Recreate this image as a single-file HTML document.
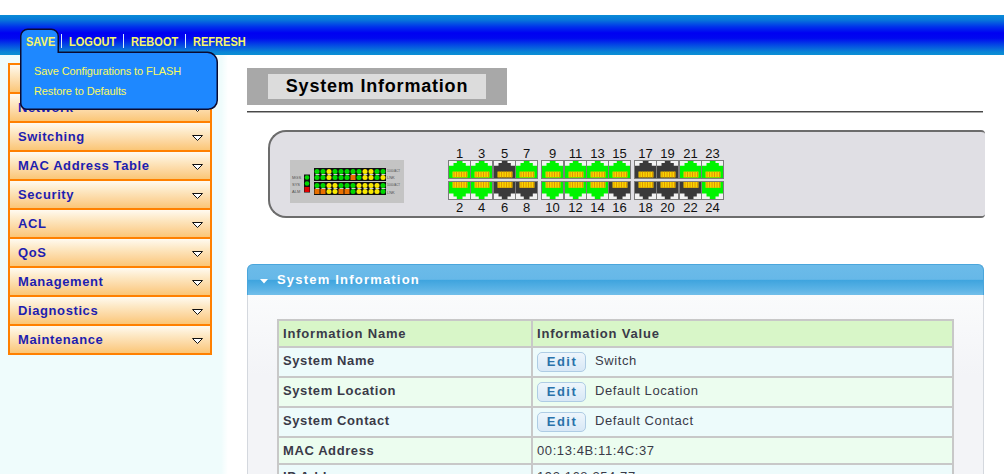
<!DOCTYPE html>
<html><head><meta charset="utf-8"><style>
*{box-sizing:border-box}
html,body{margin:0;padding:0}
body{width:1004px;height:474px;overflow:hidden;position:relative;background:#effcfc;font-family:"Liberation Sans", sans-serif}
#topw{position:absolute;left:0;top:0;width:1004px;height:15px;background:#fff}
#bar{position:absolute;left:0;top:15px;width:1004px;height:40px;background:linear-gradient(#0a8cd6 0%,#0878da 12%,#0030ec 30%,#0000f2 45%,#0008f0 58%,#0448e4 75%,#0a84d6 92%,#0c90d4 100%)}
.mi{position:absolute;top:34.5px;font-size:12px;font-weight:bold;color:#f6f66a;line-height:14px;white-space:nowrap;transform:scaleX(0.92);transform-origin:0 0}
.sep{position:absolute;top:34px;width:1px;height:14px;background:#d8ecff}
#tab{position:absolute;left:20px;top:28.5px;width:39px;height:30px;background:#1e88ff;border:1.5px solid #0a0a30;border-bottom:none;border-radius:7px 7px 0 0}
#dd{position:absolute;left:20px;top:52px;width:198px;height:58px;background:#1e88ff;border:1.5px solid #0a0a30;border-radius:0 10px 9px 6px}
#tabfill{position:absolute;left:21.5px;top:50px;width:36px;height:6px;background:#1e88ff;box-shadow:-0.5px 0 0 #0a0a30}
.ddi{position:absolute;left:34px;font-size:11px;letter-spacing:-0.1px;color:#fafa62;white-space:nowrap;line-height:13px}
#content{position:absolute;left:221px;top:55px;width:783px;height:419px;background:linear-gradient(90deg,rgba(255,255,255,0) 0px,#fff 7px)}
.si{position:absolute;left:8px;width:204px;height:31px;border:2px solid #ff8000;background:linear-gradient(#fffaf0 0%,#fde8c4 35%,#fcd59c 70%,#fbc676 100%)}
.si span{position:absolute;left:8px;top:6px;font-size:13px;font-weight:bold;color:#1e1eb0;letter-spacing:0.6px;white-space:nowrap;line-height:15px}
.si .tri{position:absolute;left:182px;top:12px}
#tbox{position:absolute;left:247px;top:68px;width:260px;height:37px;background:#a8a8a8}
#tinner{position:absolute;left:268px;top:74px;width:218px;height:25px;background:#dcdcdc;font-size:18px;font-weight:bold;letter-spacing:0.8px;color:#000;text-align:center;line-height:25px}
#tline{position:absolute;left:247px;top:111px;width:736px;height:2px;background:linear-gradient(#484848 50%,#a8a8a8 50%)}
#panel{position:absolute;left:268px;top:130px;width:717px;height:88px;background:#e0dfe4;border:2px solid #6c6c6c;border-right:none;border-radius:18px 4px 4px 18px}
.pn{position:absolute;width:30px;text-align:center;font-size:13px;color:#111;line-height:13px}
#sip{position:absolute;left:247px;top:264px;width:737px;height:220px;background:linear-gradient(#fafbfc 30px,#f3f4f7 110px);border:1px solid #d4d8de;border-radius:6px 6px 0 0}
#siph{position:absolute;left:247px;top:264px;width:737px;height:31px;border-radius:6px 6px 0 0;background:linear-gradient(#6cbbe9 0%,#66b8e8 48%,#3ea4de 50%,#5ab2e5 80%,#72bfea 100%);border:1px solid #4aa6dc;border-bottom:none}
#siph .t{position:absolute;left:29px;top:7px;font-size:13px;font-weight:bold;color:#fff;letter-spacing:1.2px;line-height:15px}
#siph svg{position:absolute;left:12px;top:13.5px}
table{position:absolute;left:277px;top:319px;width:677px;border-collapse:collapse;font-size:13px;letter-spacing:0.6px;color:#3a3a48}
td{border:2px solid #c8c8c8;padding:0 0 0 5px;vertical-align:middle;white-space:nowrap}
th{border:2px solid #c8c8c8;background:#d8f6c8;text-align:left;font-weight:bold;padding:0 0 0 4px;height:27px;color:#3a3a48;letter-spacing:0.8px}
.c1{width:254px;font-weight:bold;padding-left:4px}
.c2{padding-left:4px}
.edit{display:inline-block;width:49px;height:20px;margin-right:9px;border:1px solid #aecce4;border-radius:5px;background:linear-gradient(#eef6fc,#d8e8f6);color:#2a72aa;font-weight:bold;text-align:center;line-height:18px;vertical-align:middle;letter-spacing:1.5px;text-indent:1px}
</style></head><body>
<div id="topw"></div>
<div id="bar"></div>
<div id="content"></div>
<div class="si" style="top:63px"><span></span><svg class="tri" width="12" height="8" viewBox="0 0 12 8"><polygon points="0.5,0.5 10.5,0.5 5.5,5.5" fill="#fff" stroke="#111" stroke-width="1"/></svg></div><div class="si" style="top:92px"><span>Network</span><svg class="tri" width="12" height="8" viewBox="0 0 12 8"><polygon points="0.5,0.5 10.5,0.5 5.5,5.5" fill="#fff" stroke="#111" stroke-width="1"/></svg></div><div class="si" style="top:121px"><span>Switching</span><svg class="tri" width="12" height="8" viewBox="0 0 12 8"><polygon points="0.5,0.5 10.5,0.5 5.5,5.5" fill="#fff" stroke="#111" stroke-width="1"/></svg></div><div class="si" style="top:150px"><span>MAC Address Table</span><svg class="tri" width="12" height="8" viewBox="0 0 12 8"><polygon points="0.5,0.5 10.5,0.5 5.5,5.5" fill="#fff" stroke="#111" stroke-width="1"/></svg></div><div class="si" style="top:179px"><span>Security</span><svg class="tri" width="12" height="8" viewBox="0 0 12 8"><polygon points="0.5,0.5 10.5,0.5 5.5,5.5" fill="#fff" stroke="#111" stroke-width="1"/></svg></div><div class="si" style="top:208px"><span>ACL</span><svg class="tri" width="12" height="8" viewBox="0 0 12 8"><polygon points="0.5,0.5 10.5,0.5 5.5,5.5" fill="#fff" stroke="#111" stroke-width="1"/></svg></div><div class="si" style="top:237px"><span>QoS</span><svg class="tri" width="12" height="8" viewBox="0 0 12 8"><polygon points="0.5,0.5 10.5,0.5 5.5,5.5" fill="#fff" stroke="#111" stroke-width="1"/></svg></div><div class="si" style="top:266px"><span>Management</span><svg class="tri" width="12" height="8" viewBox="0 0 12 8"><polygon points="0.5,0.5 10.5,0.5 5.5,5.5" fill="#fff" stroke="#111" stroke-width="1"/></svg></div><div class="si" style="top:295px"><span>Diagnostics</span><svg class="tri" width="12" height="8" viewBox="0 0 12 8"><polygon points="0.5,0.5 10.5,0.5 5.5,5.5" fill="#fff" stroke="#111" stroke-width="1"/></svg></div><div class="si" style="top:324px"><span>Maintenance</span><svg class="tri" width="12" height="8" viewBox="0 0 12 8"><polygon points="0.5,0.5 10.5,0.5 5.5,5.5" fill="#fff" stroke="#111" stroke-width="1"/></svg></div>
<svg style="position:absolute;left:0;top:0" width="230" height="120" viewBox="0 0 230 120"><path d="M20.75 36 A7 7 0 0 1 27.75 29.25 L51.25 29.25 A7 7 0 0 1 58.25 36.25 L58.25 52.25 L207.25 52.25 A10 10 0 0 1 217.25 62.25 L217.25 100.25 A9 9 0 0 1 208.25 109.25 L26.75 109.25 A6 6 0 0 1 20.75 103.25 Z" fill="#1e88ff" stroke="#0a0a30" stroke-width="1.5"/></svg>
<div class="mi" style="left:26px">SAVE</div>
<div class="sep" style="left:61px"></div>
<div class="mi" style="left:69px">LOGOUT</div>
<div class="sep" style="left:123px"></div>
<div class="mi" style="left:131px">REBOOT</div>
<div class="sep" style="left:185px"></div>
<div class="mi" style="left:193px">REFRESH</div>
<div class="ddi" style="top:65px">Save Configurations to FLASH</div>
<div class="ddi" style="top:85px">Restore to Defaults</div>
<div id="tbox"></div>
<div id="tinner">System Information</div>
<div id="tline"></div>
<div id="panel"></div>
<svg style="position:absolute;left:290px;top:160px" width="114" height="43" viewBox="0 0 114 43"><rect x="0" y="0" width="114" height="43" fill="#c4c4c4"/><rect x="24" y="8" width="72" height="13" fill="#101010"/><rect x="24" y="22" width="72" height="13" fill="#101010"/><rect x="25.5" y="14" width="4" height="1" fill="#d0d0d0"/><rect x="25.5" y="28" width="4" height="1" fill="#d0d0d0"/><rect x="31.5" y="14" width="4" height="1" fill="#d0d0d0"/><rect x="31.5" y="28" width="4" height="1" fill="#d0d0d0"/><rect x="37.5" y="14" width="4" height="1" fill="#d0d0d0"/><rect x="37.5" y="28" width="4" height="1" fill="#d0d0d0"/><rect x="43.5" y="14" width="4" height="1" fill="#d0d0d0"/><rect x="43.5" y="28" width="4" height="1" fill="#d0d0d0"/><rect x="49.5" y="14" width="4" height="1" fill="#d0d0d0"/><rect x="49.5" y="28" width="4" height="1" fill="#d0d0d0"/><rect x="55.5" y="14" width="4" height="1" fill="#d0d0d0"/><rect x="55.5" y="28" width="4" height="1" fill="#d0d0d0"/><rect x="61.5" y="14" width="4" height="1" fill="#d0d0d0"/><rect x="61.5" y="28" width="4" height="1" fill="#d0d0d0"/><rect x="67.5" y="14" width="4" height="1" fill="#d0d0d0"/><rect x="67.5" y="28" width="4" height="1" fill="#d0d0d0"/><rect x="73.5" y="14" width="4" height="1" fill="#d0d0d0"/><rect x="73.5" y="28" width="4" height="1" fill="#d0d0d0"/><rect x="79.5" y="14" width="4" height="1" fill="#d0d0d0"/><rect x="79.5" y="28" width="4" height="1" fill="#d0d0d0"/><rect x="85.5" y="14" width="4" height="1" fill="#d0d0d0"/><rect x="85.5" y="28" width="4" height="1" fill="#d0d0d0"/><rect x="91.5" y="14" width="4" height="1" fill="#d0d0d0"/><rect x="91.5" y="28" width="4" height="1" fill="#d0d0d0"/><rect x="14" y="14.5" width="6" height="18" fill="#101010"/><circle cx="17" cy="17.5" r="2.3" fill="#00d800"/><circle cx="17" cy="23.5" r="2.3" fill="#00d800"/><rect x="14.5" y="27" width="5" height="5" fill="#e00000"/><circle cx="27" cy="11.5" r="2.5" fill="#00d800"/><circle cx="33" cy="11.5" r="2.5" fill="#00d800"/><circle cx="39" cy="11.5" r="2.5" fill="#f8e800"/><circle cx="45" cy="11.5" r="2.5" fill="#00d800"/><circle cx="51" cy="11.5" r="2.5" fill="#00d800"/><circle cx="57" cy="11.5" r="2.5" fill="#00d800"/><circle cx="63" cy="11.5" r="2.5" fill="#00d800"/><circle cx="69" cy="11.5" r="2.5" fill="#00d800"/><circle cx="75" cy="11.5" r="2.5" fill="#f8e800"/><circle cx="81" cy="11.5" r="2.5" fill="#f8e800"/><circle cx="87" cy="11.5" r="2.5" fill="#00d800"/><circle cx="93" cy="11.5" r="2.5" fill="#00d800"/><circle cx="27" cy="17.5" r="2.5" fill="#00d800"/><circle cx="33" cy="17.5" r="2.5" fill="#00d800"/><circle cx="39" cy="17.5" r="2.5" fill="#f8e800"/><circle cx="45" cy="17.5" r="2.5" fill="#00d800"/><circle cx="51" cy="17.5" r="2.5" fill="#00d800"/><circle cx="57" cy="17.5" r="2.5" fill="#00d800"/><rect x="60.5" y="15.0" width="5" height="5" fill="#e87000"/><circle cx="69" cy="17.5" r="2.5" fill="#00d800"/><circle cx="75" cy="17.5" r="2.5" fill="#f8e800"/><circle cx="81" cy="17.5" r="2.5" fill="#f8e800"/><circle cx="87" cy="17.5" r="2.5" fill="#00d800"/><circle cx="93" cy="17.5" r="2.5" fill="#f8e800"/><circle cx="27" cy="25.5" r="2.5" fill="#00d800"/><circle cx="33" cy="25.5" r="2.5" fill="#00d800"/><circle cx="39" cy="25.5" r="2.5" fill="#f8e800"/><circle cx="45" cy="25.5" r="2.5" fill="#f8e800"/><circle cx="51" cy="25.5" r="2.5" fill="#00d800"/><circle cx="57" cy="25.5" r="2.5" fill="#00d800"/><circle cx="63" cy="25.5" r="2.5" fill="#00d800"/><circle cx="69" cy="25.5" r="2.5" fill="#f8e800"/><circle cx="75" cy="25.5" r="2.5" fill="#f8e800"/><circle cx="81" cy="25.5" r="2.5" fill="#f8e800"/><circle cx="87" cy="25.5" r="2.5" fill="#f8e800"/><circle cx="93" cy="25.5" r="2.5" fill="#00d800"/><rect x="24.5" y="29.0" width="5" height="5" fill="#e87000"/><rect x="30.5" y="29.0" width="5" height="5" fill="#e87000"/><circle cx="39" cy="31.5" r="2.5" fill="#f8e800"/><circle cx="45" cy="31.5" r="2.5" fill="#f8e800"/><rect x="48.5" y="29.0" width="5" height="5" fill="#e87000"/><rect x="54.5" y="29.0" width="5" height="5" fill="#e87000"/><circle cx="63" cy="31.5" r="2.5" fill="#00d800"/><circle cx="69" cy="31.5" r="2.5" fill="#f8e800"/><circle cx="75" cy="31.5" r="2.5" fill="#f8e800"/><circle cx="81" cy="31.5" r="2.5" fill="#f8e800"/><circle cx="87" cy="31.5" r="2.5" fill="#f8e800"/><circle cx="93" cy="31.5" r="2.5" fill="#00d800"/><g fill="#505050" font-family="Liberation Sans" font-size="4"><text x="2" y="19">MGS</text><text x="2" y="26">SYS</text><text x="2" y="33">ALM</text><text x="97" y="11.8" textLength="13" lengthAdjust="spacingAndGlyphs">1000/ACT</text><text x="97" y="19">LNK</text><text x="97" y="26.3" textLength="13" lengthAdjust="spacingAndGlyphs">1000/ACT</text><text x="97" y="33.5">LNK</text></g></svg>
<svg style="position:absolute;left:448px;top:160px" width="23" height="19" viewBox="0 0 23 19"><rect x="0.5" y="0.5" width="22" height="18" fill="#f2f2f2" stroke="#7c7c7c" stroke-width="1"/><polygon points="1,18 1,5.8 5.5,5.8 5.5,3 8.8,3 8.8,1 14.5,1 14.5,3 17.8,3 17.8,5.8 22,5.8 22,18" fill="#00f400"/><rect x="4.5" y="11.6" width="15" height="5.8" fill="#f8d400"/><rect x="5.6" y="11.6" width="0.9" height="5.8" fill="#dc9000"/><rect x="8.1" y="11.6" width="0.9" height="5.8" fill="#dc9000"/><rect x="10.6" y="11.6" width="0.9" height="5.8" fill="#dc9000"/><rect x="13.1" y="11.6" width="0.9" height="5.8" fill="#dc9000"/><rect x="15.6" y="11.6" width="0.9" height="5.8" fill="#dc9000"/><rect x="18.1" y="11.6" width="0.9" height="5.8" fill="#dc9000"/></svg><svg style="position:absolute;left:448px;top:181px" width="23" height="19" viewBox="0 0 23 19"><rect x="0.5" y="0.5" width="22" height="18" fill="#f2f2f2" stroke="#7c7c7c" stroke-width="1"/><polygon points="1,1 1,12.6 5.5,12.6 5.5,15.4 8.8,15.4 8.8,18 14.5,18 14.5,15.4 17.8,15.4 17.8,12.6 22,12.6 22,1" fill="#00f400"/><rect x="4.5" y="1.0" width="15" height="5.8" fill="#f8d400"/><rect x="5.6" y="1.0" width="0.9" height="5.8" fill="#dc9000"/><rect x="8.1" y="1.0" width="0.9" height="5.8" fill="#dc9000"/><rect x="10.6" y="1.0" width="0.9" height="5.8" fill="#dc9000"/><rect x="13.1" y="1.0" width="0.9" height="5.8" fill="#dc9000"/><rect x="15.6" y="1.0" width="0.9" height="5.8" fill="#dc9000"/><rect x="18.1" y="1.0" width="0.9" height="5.8" fill="#dc9000"/></svg><svg style="position:absolute;left:470px;top:160px" width="23" height="19" viewBox="0 0 23 19"><rect x="0.5" y="0.5" width="22" height="18" fill="#f2f2f2" stroke="#7c7c7c" stroke-width="1"/><polygon points="1,18 1,5.8 5.5,5.8 5.5,3 8.8,3 8.8,1 14.5,1 14.5,3 17.8,3 17.8,5.8 22,5.8 22,18" fill="#00f400"/><rect x="4.5" y="11.6" width="15" height="5.8" fill="#f8d400"/><rect x="5.6" y="11.6" width="0.9" height="5.8" fill="#dc9000"/><rect x="8.1" y="11.6" width="0.9" height="5.8" fill="#dc9000"/><rect x="10.6" y="11.6" width="0.9" height="5.8" fill="#dc9000"/><rect x="13.1" y="11.6" width="0.9" height="5.8" fill="#dc9000"/><rect x="15.6" y="11.6" width="0.9" height="5.8" fill="#dc9000"/><rect x="18.1" y="11.6" width="0.9" height="5.8" fill="#dc9000"/></svg><svg style="position:absolute;left:470px;top:181px" width="23" height="19" viewBox="0 0 23 19"><rect x="0.5" y="0.5" width="22" height="18" fill="#f2f2f2" stroke="#7c7c7c" stroke-width="1"/><polygon points="1,1 1,12.6 5.5,12.6 5.5,15.4 8.8,15.4 8.8,18 14.5,18 14.5,15.4 17.8,15.4 17.8,12.6 22,12.6 22,1" fill="#00f400"/><rect x="4.5" y="1.0" width="15" height="5.8" fill="#f8d400"/><rect x="5.6" y="1.0" width="0.9" height="5.8" fill="#dc9000"/><rect x="8.1" y="1.0" width="0.9" height="5.8" fill="#dc9000"/><rect x="10.6" y="1.0" width="0.9" height="5.8" fill="#dc9000"/><rect x="13.1" y="1.0" width="0.9" height="5.8" fill="#dc9000"/><rect x="15.6" y="1.0" width="0.9" height="5.8" fill="#dc9000"/><rect x="18.1" y="1.0" width="0.9" height="5.8" fill="#dc9000"/></svg><svg style="position:absolute;left:493px;top:160px" width="23" height="19" viewBox="0 0 23 19"><rect x="0.5" y="0.5" width="22" height="18" fill="#f2f2f2" stroke="#7c7c7c" stroke-width="1"/><polygon points="1,18 1,5.8 5.5,5.8 5.5,3 8.8,3 8.8,1 14.5,1 14.5,3 17.8,3 17.8,5.8 22,5.8 22,18" fill="#3a3a3a"/><rect x="4.5" y="11.6" width="15" height="5.8" fill="#f8d400"/><rect x="5.6" y="11.6" width="0.9" height="5.8" fill="#dc9000"/><rect x="8.1" y="11.6" width="0.9" height="5.8" fill="#dc9000"/><rect x="10.6" y="11.6" width="0.9" height="5.8" fill="#dc9000"/><rect x="13.1" y="11.6" width="0.9" height="5.8" fill="#dc9000"/><rect x="15.6" y="11.6" width="0.9" height="5.8" fill="#dc9000"/><rect x="18.1" y="11.6" width="0.9" height="5.8" fill="#dc9000"/></svg><svg style="position:absolute;left:493px;top:181px" width="23" height="19" viewBox="0 0 23 19"><rect x="0.5" y="0.5" width="22" height="18" fill="#f2f2f2" stroke="#7c7c7c" stroke-width="1"/><polygon points="1,1 1,12.6 5.5,12.6 5.5,15.4 8.8,15.4 8.8,18 14.5,18 14.5,15.4 17.8,15.4 17.8,12.6 22,12.6 22,1" fill="#3a3a3a"/><rect x="4.5" y="1.0" width="15" height="5.8" fill="#f8d400"/><rect x="5.6" y="1.0" width="0.9" height="5.8" fill="#dc9000"/><rect x="8.1" y="1.0" width="0.9" height="5.8" fill="#dc9000"/><rect x="10.6" y="1.0" width="0.9" height="5.8" fill="#dc9000"/><rect x="13.1" y="1.0" width="0.9" height="5.8" fill="#dc9000"/><rect x="15.6" y="1.0" width="0.9" height="5.8" fill="#dc9000"/><rect x="18.1" y="1.0" width="0.9" height="5.8" fill="#dc9000"/></svg><svg style="position:absolute;left:515px;top:160px" width="23" height="19" viewBox="0 0 23 19"><rect x="0.5" y="0.5" width="22" height="18" fill="#f2f2f2" stroke="#7c7c7c" stroke-width="1"/><polygon points="1,18 1,5.8 5.5,5.8 5.5,3 8.8,3 8.8,1 14.5,1 14.5,3 17.8,3 17.8,5.8 22,5.8 22,18" fill="#00f400"/><rect x="4.5" y="11.6" width="15" height="5.8" fill="#f8d400"/><rect x="5.6" y="11.6" width="0.9" height="5.8" fill="#dc9000"/><rect x="8.1" y="11.6" width="0.9" height="5.8" fill="#dc9000"/><rect x="10.6" y="11.6" width="0.9" height="5.8" fill="#dc9000"/><rect x="13.1" y="11.6" width="0.9" height="5.8" fill="#dc9000"/><rect x="15.6" y="11.6" width="0.9" height="5.8" fill="#dc9000"/><rect x="18.1" y="11.6" width="0.9" height="5.8" fill="#dc9000"/></svg><svg style="position:absolute;left:515px;top:181px" width="23" height="19" viewBox="0 0 23 19"><rect x="0.5" y="0.5" width="22" height="18" fill="#f2f2f2" stroke="#7c7c7c" stroke-width="1"/><polygon points="1,1 1,12.6 5.5,12.6 5.5,15.4 8.8,15.4 8.8,18 14.5,18 14.5,15.4 17.8,15.4 17.8,12.6 22,12.6 22,1" fill="#3a3a3a"/><rect x="4.5" y="1.0" width="15" height="5.8" fill="#f8d400"/><rect x="5.6" y="1.0" width="0.9" height="5.8" fill="#dc9000"/><rect x="8.1" y="1.0" width="0.9" height="5.8" fill="#dc9000"/><rect x="10.6" y="1.0" width="0.9" height="5.8" fill="#dc9000"/><rect x="13.1" y="1.0" width="0.9" height="5.8" fill="#dc9000"/><rect x="15.6" y="1.0" width="0.9" height="5.8" fill="#dc9000"/><rect x="18.1" y="1.0" width="0.9" height="5.8" fill="#dc9000"/></svg><svg style="position:absolute;left:541px;top:160px" width="23" height="19" viewBox="0 0 23 19"><rect x="0.5" y="0.5" width="22" height="18" fill="#f2f2f2" stroke="#7c7c7c" stroke-width="1"/><polygon points="1,18 1,5.8 5.5,5.8 5.5,3 8.8,3 8.8,1 14.5,1 14.5,3 17.8,3 17.8,5.8 22,5.8 22,18" fill="#00f400"/><rect x="4.5" y="11.6" width="15" height="5.8" fill="#f8d400"/><rect x="5.6" y="11.6" width="0.9" height="5.8" fill="#dc9000"/><rect x="8.1" y="11.6" width="0.9" height="5.8" fill="#dc9000"/><rect x="10.6" y="11.6" width="0.9" height="5.8" fill="#dc9000"/><rect x="13.1" y="11.6" width="0.9" height="5.8" fill="#dc9000"/><rect x="15.6" y="11.6" width="0.9" height="5.8" fill="#dc9000"/><rect x="18.1" y="11.6" width="0.9" height="5.8" fill="#dc9000"/></svg><svg style="position:absolute;left:541px;top:181px" width="23" height="19" viewBox="0 0 23 19"><rect x="0.5" y="0.5" width="22" height="18" fill="#f2f2f2" stroke="#7c7c7c" stroke-width="1"/><polygon points="1,1 1,12.6 5.5,12.6 5.5,15.4 8.8,15.4 8.8,18 14.5,18 14.5,15.4 17.8,15.4 17.8,12.6 22,12.6 22,1" fill="#00f400"/><rect x="4.5" y="1.0" width="15" height="5.8" fill="#f8d400"/><rect x="5.6" y="1.0" width="0.9" height="5.8" fill="#dc9000"/><rect x="8.1" y="1.0" width="0.9" height="5.8" fill="#dc9000"/><rect x="10.6" y="1.0" width="0.9" height="5.8" fill="#dc9000"/><rect x="13.1" y="1.0" width="0.9" height="5.8" fill="#dc9000"/><rect x="15.6" y="1.0" width="0.9" height="5.8" fill="#dc9000"/><rect x="18.1" y="1.0" width="0.9" height="5.8" fill="#dc9000"/></svg><svg style="position:absolute;left:564px;top:160px" width="23" height="19" viewBox="0 0 23 19"><rect x="0.5" y="0.5" width="22" height="18" fill="#f2f2f2" stroke="#7c7c7c" stroke-width="1"/><polygon points="1,18 1,5.8 5.5,5.8 5.5,3 8.8,3 8.8,1 14.5,1 14.5,3 17.8,3 17.8,5.8 22,5.8 22,18" fill="#00f400"/><rect x="4.5" y="11.6" width="15" height="5.8" fill="#f8d400"/><rect x="5.6" y="11.6" width="0.9" height="5.8" fill="#dc9000"/><rect x="8.1" y="11.6" width="0.9" height="5.8" fill="#dc9000"/><rect x="10.6" y="11.6" width="0.9" height="5.8" fill="#dc9000"/><rect x="13.1" y="11.6" width="0.9" height="5.8" fill="#dc9000"/><rect x="15.6" y="11.6" width="0.9" height="5.8" fill="#dc9000"/><rect x="18.1" y="11.6" width="0.9" height="5.8" fill="#dc9000"/></svg><svg style="position:absolute;left:564px;top:181px" width="23" height="19" viewBox="0 0 23 19"><rect x="0.5" y="0.5" width="22" height="18" fill="#f2f2f2" stroke="#7c7c7c" stroke-width="1"/><polygon points="1,1 1,12.6 5.5,12.6 5.5,15.4 8.8,15.4 8.8,18 14.5,18 14.5,15.4 17.8,15.4 17.8,12.6 22,12.6 22,1" fill="#00f400"/><rect x="4.5" y="1.0" width="15" height="5.8" fill="#f8d400"/><rect x="5.6" y="1.0" width="0.9" height="5.8" fill="#dc9000"/><rect x="8.1" y="1.0" width="0.9" height="5.8" fill="#dc9000"/><rect x="10.6" y="1.0" width="0.9" height="5.8" fill="#dc9000"/><rect x="13.1" y="1.0" width="0.9" height="5.8" fill="#dc9000"/><rect x="15.6" y="1.0" width="0.9" height="5.8" fill="#dc9000"/><rect x="18.1" y="1.0" width="0.9" height="5.8" fill="#dc9000"/></svg><svg style="position:absolute;left:586px;top:160px" width="23" height="19" viewBox="0 0 23 19"><rect x="0.5" y="0.5" width="22" height="18" fill="#f2f2f2" stroke="#7c7c7c" stroke-width="1"/><polygon points="1,18 1,5.8 5.5,5.8 5.5,3 8.8,3 8.8,1 14.5,1 14.5,3 17.8,3 17.8,5.8 22,5.8 22,18" fill="#00f400"/><rect x="4.5" y="11.6" width="15" height="5.8" fill="#f8d400"/><rect x="5.6" y="11.6" width="0.9" height="5.8" fill="#dc9000"/><rect x="8.1" y="11.6" width="0.9" height="5.8" fill="#dc9000"/><rect x="10.6" y="11.6" width="0.9" height="5.8" fill="#dc9000"/><rect x="13.1" y="11.6" width="0.9" height="5.8" fill="#dc9000"/><rect x="15.6" y="11.6" width="0.9" height="5.8" fill="#dc9000"/><rect x="18.1" y="11.6" width="0.9" height="5.8" fill="#dc9000"/></svg><svg style="position:absolute;left:586px;top:181px" width="23" height="19" viewBox="0 0 23 19"><rect x="0.5" y="0.5" width="22" height="18" fill="#f2f2f2" stroke="#7c7c7c" stroke-width="1"/><polygon points="1,1 1,12.6 5.5,12.6 5.5,15.4 8.8,15.4 8.8,18 14.5,18 14.5,15.4 17.8,15.4 17.8,12.6 22,12.6 22,1" fill="#00f400"/><rect x="4.5" y="1.0" width="15" height="5.8" fill="#f8d400"/><rect x="5.6" y="1.0" width="0.9" height="5.8" fill="#dc9000"/><rect x="8.1" y="1.0" width="0.9" height="5.8" fill="#dc9000"/><rect x="10.6" y="1.0" width="0.9" height="5.8" fill="#dc9000"/><rect x="13.1" y="1.0" width="0.9" height="5.8" fill="#dc9000"/><rect x="15.6" y="1.0" width="0.9" height="5.8" fill="#dc9000"/><rect x="18.1" y="1.0" width="0.9" height="5.8" fill="#dc9000"/></svg><svg style="position:absolute;left:608px;top:160px" width="23" height="19" viewBox="0 0 23 19"><rect x="0.5" y="0.5" width="22" height="18" fill="#f2f2f2" stroke="#7c7c7c" stroke-width="1"/><polygon points="1,18 1,5.8 5.5,5.8 5.5,3 8.8,3 8.8,1 14.5,1 14.5,3 17.8,3 17.8,5.8 22,5.8 22,18" fill="#00f400"/><rect x="4.5" y="11.6" width="15" height="5.8" fill="#f8d400"/><rect x="5.6" y="11.6" width="0.9" height="5.8" fill="#dc9000"/><rect x="8.1" y="11.6" width="0.9" height="5.8" fill="#dc9000"/><rect x="10.6" y="11.6" width="0.9" height="5.8" fill="#dc9000"/><rect x="13.1" y="11.6" width="0.9" height="5.8" fill="#dc9000"/><rect x="15.6" y="11.6" width="0.9" height="5.8" fill="#dc9000"/><rect x="18.1" y="11.6" width="0.9" height="5.8" fill="#dc9000"/></svg><svg style="position:absolute;left:608px;top:181px" width="23" height="19" viewBox="0 0 23 19"><rect x="0.5" y="0.5" width="22" height="18" fill="#f2f2f2" stroke="#7c7c7c" stroke-width="1"/><polygon points="1,1 1,12.6 5.5,12.6 5.5,15.4 8.8,15.4 8.8,18 14.5,18 14.5,15.4 17.8,15.4 17.8,12.6 22,12.6 22,1" fill="#3a3a3a"/><rect x="4.5" y="1.0" width="15" height="5.8" fill="#f8d400"/><rect x="5.6" y="1.0" width="0.9" height="5.8" fill="#dc9000"/><rect x="8.1" y="1.0" width="0.9" height="5.8" fill="#dc9000"/><rect x="10.6" y="1.0" width="0.9" height="5.8" fill="#dc9000"/><rect x="13.1" y="1.0" width="0.9" height="5.8" fill="#dc9000"/><rect x="15.6" y="1.0" width="0.9" height="5.8" fill="#dc9000"/><rect x="18.1" y="1.0" width="0.9" height="5.8" fill="#dc9000"/></svg><svg style="position:absolute;left:634px;top:160px" width="23" height="19" viewBox="0 0 23 19"><rect x="0.5" y="0.5" width="22" height="18" fill="#f2f2f2" stroke="#7c7c7c" stroke-width="1"/><polygon points="1,18 1,5.8 5.5,5.8 5.5,3 8.8,3 8.8,1 14.5,1 14.5,3 17.8,3 17.8,5.8 22,5.8 22,18" fill="#3a3a3a"/><rect x="4.5" y="11.6" width="15" height="5.8" fill="#f8d400"/><rect x="5.6" y="11.6" width="0.9" height="5.8" fill="#dc9000"/><rect x="8.1" y="11.6" width="0.9" height="5.8" fill="#dc9000"/><rect x="10.6" y="11.6" width="0.9" height="5.8" fill="#dc9000"/><rect x="13.1" y="11.6" width="0.9" height="5.8" fill="#dc9000"/><rect x="15.6" y="11.6" width="0.9" height="5.8" fill="#dc9000"/><rect x="18.1" y="11.6" width="0.9" height="5.8" fill="#dc9000"/></svg><svg style="position:absolute;left:634px;top:181px" width="23" height="19" viewBox="0 0 23 19"><rect x="0.5" y="0.5" width="22" height="18" fill="#f2f2f2" stroke="#7c7c7c" stroke-width="1"/><polygon points="1,1 1,12.6 5.5,12.6 5.5,15.4 8.8,15.4 8.8,18 14.5,18 14.5,15.4 17.8,15.4 17.8,12.6 22,12.6 22,1" fill="#3a3a3a"/><rect x="4.5" y="1.0" width="15" height="5.8" fill="#f8d400"/><rect x="5.6" y="1.0" width="0.9" height="5.8" fill="#dc9000"/><rect x="8.1" y="1.0" width="0.9" height="5.8" fill="#dc9000"/><rect x="10.6" y="1.0" width="0.9" height="5.8" fill="#dc9000"/><rect x="13.1" y="1.0" width="0.9" height="5.8" fill="#dc9000"/><rect x="15.6" y="1.0" width="0.9" height="5.8" fill="#dc9000"/><rect x="18.1" y="1.0" width="0.9" height="5.8" fill="#dc9000"/></svg><svg style="position:absolute;left:656px;top:160px" width="23" height="19" viewBox="0 0 23 19"><rect x="0.5" y="0.5" width="22" height="18" fill="#f2f2f2" stroke="#7c7c7c" stroke-width="1"/><polygon points="1,18 1,5.8 5.5,5.8 5.5,3 8.8,3 8.8,1 14.5,1 14.5,3 17.8,3 17.8,5.8 22,5.8 22,18" fill="#3a3a3a"/><rect x="4.5" y="11.6" width="15" height="5.8" fill="#f8d400"/><rect x="5.6" y="11.6" width="0.9" height="5.8" fill="#dc9000"/><rect x="8.1" y="11.6" width="0.9" height="5.8" fill="#dc9000"/><rect x="10.6" y="11.6" width="0.9" height="5.8" fill="#dc9000"/><rect x="13.1" y="11.6" width="0.9" height="5.8" fill="#dc9000"/><rect x="15.6" y="11.6" width="0.9" height="5.8" fill="#dc9000"/><rect x="18.1" y="11.6" width="0.9" height="5.8" fill="#dc9000"/></svg><svg style="position:absolute;left:656px;top:181px" width="23" height="19" viewBox="0 0 23 19"><rect x="0.5" y="0.5" width="22" height="18" fill="#f2f2f2" stroke="#7c7c7c" stroke-width="1"/><polygon points="1,1 1,12.6 5.5,12.6 5.5,15.4 8.8,15.4 8.8,18 14.5,18 14.5,15.4 17.8,15.4 17.8,12.6 22,12.6 22,1" fill="#3a3a3a"/><rect x="4.5" y="1.0" width="15" height="5.8" fill="#f8d400"/><rect x="5.6" y="1.0" width="0.9" height="5.8" fill="#dc9000"/><rect x="8.1" y="1.0" width="0.9" height="5.8" fill="#dc9000"/><rect x="10.6" y="1.0" width="0.9" height="5.8" fill="#dc9000"/><rect x="13.1" y="1.0" width="0.9" height="5.8" fill="#dc9000"/><rect x="15.6" y="1.0" width="0.9" height="5.8" fill="#dc9000"/><rect x="18.1" y="1.0" width="0.9" height="5.8" fill="#dc9000"/></svg><svg style="position:absolute;left:679px;top:160px" width="23" height="19" viewBox="0 0 23 19"><rect x="0.5" y="0.5" width="22" height="18" fill="#f2f2f2" stroke="#7c7c7c" stroke-width="1"/><polygon points="1,18 1,5.8 5.5,5.8 5.5,3 8.8,3 8.8,1 14.5,1 14.5,3 17.8,3 17.8,5.8 22,5.8 22,18" fill="#00f400"/><rect x="4.5" y="11.6" width="15" height="5.8" fill="#f8d400"/><rect x="5.6" y="11.6" width="0.9" height="5.8" fill="#dc9000"/><rect x="8.1" y="11.6" width="0.9" height="5.8" fill="#dc9000"/><rect x="10.6" y="11.6" width="0.9" height="5.8" fill="#dc9000"/><rect x="13.1" y="11.6" width="0.9" height="5.8" fill="#dc9000"/><rect x="15.6" y="11.6" width="0.9" height="5.8" fill="#dc9000"/><rect x="18.1" y="11.6" width="0.9" height="5.8" fill="#dc9000"/></svg><svg style="position:absolute;left:679px;top:181px" width="23" height="19" viewBox="0 0 23 19"><rect x="0.5" y="0.5" width="22" height="18" fill="#f2f2f2" stroke="#7c7c7c" stroke-width="1"/><polygon points="1,1 1,12.6 5.5,12.6 5.5,15.4 8.8,15.4 8.8,18 14.5,18 14.5,15.4 17.8,15.4 17.8,12.6 22,12.6 22,1" fill="#3a3a3a"/><rect x="4.5" y="1.0" width="15" height="5.8" fill="#f8d400"/><rect x="5.6" y="1.0" width="0.9" height="5.8" fill="#dc9000"/><rect x="8.1" y="1.0" width="0.9" height="5.8" fill="#dc9000"/><rect x="10.6" y="1.0" width="0.9" height="5.8" fill="#dc9000"/><rect x="13.1" y="1.0" width="0.9" height="5.8" fill="#dc9000"/><rect x="15.6" y="1.0" width="0.9" height="5.8" fill="#dc9000"/><rect x="18.1" y="1.0" width="0.9" height="5.8" fill="#dc9000"/></svg><svg style="position:absolute;left:701px;top:160px" width="23" height="19" viewBox="0 0 23 19"><rect x="0.5" y="0.5" width="22" height="18" fill="#f2f2f2" stroke="#7c7c7c" stroke-width="1"/><polygon points="1,18 1,5.8 5.5,5.8 5.5,3 8.8,3 8.8,1 14.5,1 14.5,3 17.8,3 17.8,5.8 22,5.8 22,18" fill="#00f400"/><rect x="4.5" y="11.6" width="15" height="5.8" fill="#f8d400"/><rect x="5.6" y="11.6" width="0.9" height="5.8" fill="#dc9000"/><rect x="8.1" y="11.6" width="0.9" height="5.8" fill="#dc9000"/><rect x="10.6" y="11.6" width="0.9" height="5.8" fill="#dc9000"/><rect x="13.1" y="11.6" width="0.9" height="5.8" fill="#dc9000"/><rect x="15.6" y="11.6" width="0.9" height="5.8" fill="#dc9000"/><rect x="18.1" y="11.6" width="0.9" height="5.8" fill="#dc9000"/></svg><svg style="position:absolute;left:701px;top:181px" width="23" height="19" viewBox="0 0 23 19"><rect x="0.5" y="0.5" width="22" height="18" fill="#f2f2f2" stroke="#7c7c7c" stroke-width="1"/><polygon points="1,1 1,12.6 5.5,12.6 5.5,15.4 8.8,15.4 8.8,18 14.5,18 14.5,15.4 17.8,15.4 17.8,12.6 22,12.6 22,1" fill="#00f400"/><rect x="4.5" y="1.0" width="15" height="5.8" fill="#f8d400"/><rect x="5.6" y="1.0" width="0.9" height="5.8" fill="#dc9000"/><rect x="8.1" y="1.0" width="0.9" height="5.8" fill="#dc9000"/><rect x="10.6" y="1.0" width="0.9" height="5.8" fill="#dc9000"/><rect x="13.1" y="1.0" width="0.9" height="5.8" fill="#dc9000"/><rect x="15.6" y="1.0" width="0.9" height="5.8" fill="#dc9000"/><rect x="18.1" y="1.0" width="0.9" height="5.8" fill="#dc9000"/></svg>
<div class="pn" style="left:444.5px;top:147px">1</div><div class="pn" style="left:444.5px;top:201px">2</div><div class="pn" style="left:466.5px;top:147px">3</div><div class="pn" style="left:466.5px;top:201px">4</div><div class="pn" style="left:489.5px;top:147px">5</div><div class="pn" style="left:489.5px;top:201px">6</div><div class="pn" style="left:511.5px;top:147px">7</div><div class="pn" style="left:511.5px;top:201px">8</div><div class="pn" style="left:537.5px;top:147px">9</div><div class="pn" style="left:537.5px;top:201px">10</div><div class="pn" style="left:560.5px;top:147px">11</div><div class="pn" style="left:560.5px;top:201px">12</div><div class="pn" style="left:582.5px;top:147px">13</div><div class="pn" style="left:582.5px;top:201px">14</div><div class="pn" style="left:604.5px;top:147px">15</div><div class="pn" style="left:604.5px;top:201px">16</div><div class="pn" style="left:630.5px;top:147px">17</div><div class="pn" style="left:630.5px;top:201px">18</div><div class="pn" style="left:652.5px;top:147px">19</div><div class="pn" style="left:652.5px;top:201px">20</div><div class="pn" style="left:675.5px;top:147px">21</div><div class="pn" style="left:675.5px;top:201px">22</div><div class="pn" style="left:697.5px;top:147px">23</div><div class="pn" style="left:697.5px;top:201px">24</div>
<div id="sip"></div>
<div id="siph"><svg width="8" height="5" viewBox="0 0 8 5"><polygon points="0,0 8,0 4,4.5" fill="#fff"/></svg><span class="t">System Information</span></div>
<table>
<tr><th>Information Name</th><th>Information Value</th></tr>
<tr style="background:#edfbfb;height:30px"><td class="c1"><span style="position:relative;top:-2px">System Name</span></td><td class="c2"><span class="edit">Edit</span>Switch</td></tr><tr style="background:#ecfdef;height:30px"><td class="c1"><span style="position:relative;top:-2px">System Location</span></td><td class="c2"><span class="edit">Edit</span>Default Location</td></tr><tr style="background:#edfbfb;height:30px"><td class="c1"><span style="position:relative;top:-2px">System Contact</span></td><td class="c2"><span class="edit">Edit</span>Default Contact</td></tr><tr style="background:#ecfdef;height:27px"><td class="c1">MAC Address</td><td class="c2">00:13:4B:11:4C:37</td></tr><tr style="background:#edfbfb;height:27px"><td class="c1"><span style="position:relative;top:-1px">IP Address</span></td><td class="c2"><span style="position:relative;top:-1px">192.168.254.77</span></td></tr>
</table>
</body></html>
